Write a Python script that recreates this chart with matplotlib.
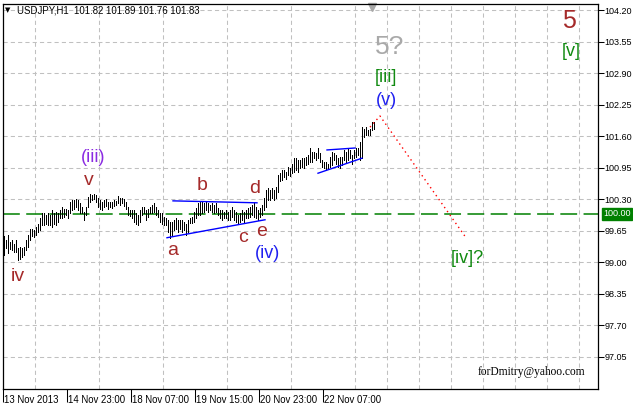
import matplotlib
matplotlib.use('Agg')
import matplotlib.pyplot as plt
import numpy as np

# ---------------- data ----------------
highs = [
    99.54, 99.47, 99.56, 99.43, 99.46, 99.39, 99.46, 99.29, 99.31, 99.29,
    99.31, 99.46, 99.56, 99.70, 99.70, 99.67, 99.74, 99.80, 99.91, 100.01,
    100.02, 99.98, 100.01, 99.98, 100.08, 100.01, 100.05, 100.01, 100.08, 100.15,
    100.11, 100.11, 100.08, 100.25, 100.29, 100.29, 100.30, 100.29, 100.22, 100.15,
    100.05, 100.15, 100.35, 100.42, 100.40, 100.42, 100.39,
    100.32, 100.29, 100.25, 100.29, 100.30, 100.25, 100.25, 100.25, 100.29, 100.27,
    100.37, 100.32, 100.32, 100.30, 100.25, 100.15, 100.09, 100.08, 100.09, 100.01,
    99.98, 100.08, 100.15, 100.15, 100.08, 100.11, 100.15, 100.18, 100.22, 100.15,
    100.08, 100.01, 100.01, 99.94, 99.91, 99.87, 99.84, 99.84, 99.87, 99.91,
    99.87, 99.87, 99.87, 99.84, 99.80, 99.87,
    99.91, 99.94, 100.05, 100.12, 100.22, 100.25, 100.25, 100.23, 100.25, 100.22,
    100.18, 100.22, 100.18, 100.22, 100.12, 100.08, 100.08, 100.05, 100.08, 100.05,
    100.08, 100.15, 100.08, 100.05, 99.98, 100.01, 100.08, 100.05, 100.08, 100.12,
    100.15, 100.18, 100.22, 100.15, 100.08, 100.12, 100.18, 100.32, 100.49, 100.53,
    100.49, 100.53, 100.49, 100.56, 100.80, 100.84, 100.91,
    100.91, 100.87, 100.97, 100.95, 101.04, 101.15, 101.15, 101.11, 101.11, 101.15,
    101.15, 101.18, 101.22, 101.35, 101.28, 101.28, 101.25, 101.35, 101.25, 101.11,
    101.08, 101.08, 101.04, 101.18, 101.28, 101.25, 101.22, 101.15, 101.18, 101.18,
    101.32, 101.28, 101.35, 101.32, 101.22, 101.32, 101.35, 101.35, 101.49, 101.80,
    101.76, 101.80, 101.73, 101.76, 101.90, 101.89,
]
lows = [
    99.15, 99.29, 99.19, 99.27, 99.26, 99.22, 99.22, 99.06, 99.08, 99.12,
    99.15, 99.26, 99.31, 99.46, 99.54, 99.53, 99.56, 99.63, 99.67, 99.77,
    99.77, 99.80, 99.77, 99.77, 99.74, 99.80, 99.77, 99.84, 99.91, 99.91,
    99.94, 99.98, 99.91, 100.01, 100.08, 100.11, 100.15, 100.08, 100.01, 100.01,
    99.87, 99.98, 100.15, 100.25, 100.29, 100.30, 100.25,
    100.15, 100.11, 100.08, 100.15, 100.16, 100.11, 100.15, 100.13, 100.16, 100.18,
    100.22, 100.18, 100.22, 100.16, 100.11, 99.98, 99.96, 99.91, 99.84, 99.80,
    99.77, 99.84, 99.98, 100.01, 99.87, 99.94, 100.01, 100.01, 100.05, 99.98,
    99.94, 99.84, 99.80, 99.77, 99.77, 99.63, 99.50, 99.56, 99.67, 99.70,
    99.63, 99.70, 99.63, 99.67, 99.56, 99.63,
    99.81, 99.81, 99.84, 99.91, 99.98, 99.98, 100.01, 100.05, 100.08, 100.05,
    100.08, 100.05, 100.01, 100.05, 99.98, 99.91, 99.88, 99.91, 99.91, 99.88,
    99.88, 99.94, 99.88, 99.84, 99.81, 99.84, 99.88, 99.84, 99.91, 99.91,
    99.94, 99.98, 99.94, 99.91, 99.88, 99.94, 99.98, 100.08, 100.15, 100.29,
    100.29, 100.32, 100.29, 100.32, 100.46, 100.67, 100.70,
    100.77, 100.73, 100.80, 100.79, 100.84, 100.87, 100.91, 100.87, 100.94, 100.97,
    100.94, 101.01, 101.04, 101.08, 101.08, 101.15, 101.11, 101.15, 101.08, 100.97,
    100.94, 100.91, 100.94, 100.97, 101.01, 101.11, 101.04, 100.97, 100.94, 101.01,
    101.11, 101.08, 101.11, 101.15, 101.04, 101.15, 101.18, 101.22, 101.11, 101.15,
    101.59, 101.63, 101.63, 101.63, 101.73, 101.76,
]

ytick_values = [104.20, 103.55, 102.90, 102.25, 101.60, 100.95, 100.30,
                99.65, 99.00, 98.35, 97.70, 97.05]
xtick_bars = [-0.5, 31.5, 63.5, 95.5, 127.5, 159.5]
xtick_labels = ['13 Nov 2013', '14 Nov 23:00', '18 Nov 07:00',
                '19 Nov 15:00', '20 Nov 23:00', '22 Nov 07:00']

level_price = 100.00

# trend lines: (x bars, prices)
tri4_top = ([84.5, 126.5], [100.27, 100.23])
tri4_bot = ([81.5, 130.5], [99.51, 99.88])
tri5_top = ([161.5, 175.5], [101.32, 101.36])
tri5_bot = ([157.0, 179.0], [100.84, 101.15])
forecast_x = [183, 188, 231]
forecast_y = [101.79, 102.02, 99.51]

# wave labels: text, bar x, price, colour, size
BROWN = '#A52A2A'
BLUE = '#2020F0'
VIOLET = '#8A2BE2'
GREEN = '#118A11'
labels = [
    ('(iii)', 44.5, 101.17, VIOLET, 13),
    ('v', 42.5, 100.70, BROWN, 14),
    ('iv', 7.0, 98.72, BROWN, 14),
    ('a', 84.5, 99.24, BROWN, 14),
    ('b', 99.0, 100.58, BROWN, 14),
    ('c', 119.5, 99.51, BROWN, 14),
    ('d', 125.5, 100.52, BROWN, 14),
    ('e', 129.0, 99.63, BROWN, 14),
    ('(iv)', 131.5, 99.18, BLUE, 13),
    ('(v)', 191.0, 102.35, BLUE, 13),
    ('[iii]', 191.0, 102.82, GREEN, 13),
    ('5?', 193.0, 103.44, '#A9A9A9', 19),
    ('5', 282.5, 103.98, BROWN, 18),
    ('[v]', 283.5, 103.36, GREEN, 13),
    ('[iv]?', 231.5, 99.09, GREEN, 13),
]

# ---------------- figure ----------------
W, H = 633, 409
fig = plt.figure(figsize=(W / 100, H / 100), dpi=100)
fig.patch.set_facecolor('white')
L, R, T, B = 3, 598, 4, 389
ax = fig.add_axes([L / W, 1 - B / H, (R - L) / W, (B - T) / H])
ax.set_facecolor('white')

FONT = 'Liberation Sans'

x = np.arange(len(highs))
ax.vlines(x, lows, highs, colors='black', linewidth=0.55, antialiased=False, zorder=3)

ax.set_xlim(-0.5, 297.0)
ax.set_ylim(96.39, 104.33)

# grid
ax.set_yticks(ytick_values)
ax.set_yticklabels([f'{v:.2f}' for v in ytick_values], fontsize=6.5, family=FONT)
ax.yaxis.tick_right()
ax.tick_params(axis='y', length=4, width=0.75, pad=0.8, colors='black')
ax.set_xticks(xtick_bars)
ax.set_xticks(np.arange(15.5, 297, 16), minor=True)
ax.tick_params(axis='x', which='major', length=9, width=0.75, labelbottom=False)
ax.tick_params(axis='x', which='minor', length=0)
ax.grid(False)
ax.yaxis.grid(True, color='#C0C0C0', linestyle=(0, (4, 3)), linewidth=0.75, zorder=0)
ax.xaxis.grid(True, which='minor', color='#C0C0C0', linestyle=(0, (4, 3)), linewidth=0.75, zorder=0)
for s in ax.spines.values():
    s.set_color('black')
    s.set_linewidth(0.9)

xt = ax.get_xaxis_transform()
for pos, lab in zip(xtick_bars, xtick_labels):
    ax.text(pos + 0.7, -0.029, lab, transform=xt, ha='left', va='center',
            fontsize=6.9, family=FONT, clip_on=False)

# horizontal level
ax.axhline(level_price, color='#008000', linewidth=1.1, linestyle=(0, (11, 4.2)), zorder=2)
ax.text(1.0085, level_price, f'{level_price:.2f}', transform=ax.get_yaxis_transform(),
        ha='left', va='center', fontsize=6.5, family=FONT, color='white',
        bbox=dict(boxstyle='square,pad=0.15', fc='#008000', ec='#008000'),
        clip_on=False, zorder=5)

# triangles
for xs, ys in (tri4_top, tri4_bot, tri5_top, tri5_bot):
    ax.plot(xs, ys, color='#0000FF', linewidth=1.0, zorder=4)

# forecast
ax.plot(forecast_x, forecast_y, color='#FF0000', linewidth=1.0,
        linestyle=(0, (1, 2.5)), zorder=4)

# wave labels
for txt, bx, py, col, sz in labels:
    ax.text(bx, py, txt, color=col, fontsize=sz, family=FONT, ha='center', va='center', zorder=6)

# title
ax.text(2.0, 104.20, '\u25bc', fontsize=5, family='DejaVu Sans', ha='center', va='center')
ax.text(6.5, 104.20, 'USDJPY,H1  101.82 101.89 101.76 101.83', fontsize=6.9,
        family=FONT, ha='left', va='center')

# shift marker
ax.plot([184], [104.27], marker='v', markersize=6, color='#A8A8A8', clip_on=False)

# signature
ax.text(263.5, 96.75, 'forDmitry@yahoo.com', fontsize=8.3, family='Liberation Serif',
        ha='center', va='center', color='black')

fig.savefig('out.png', dpi=100, facecolor='white')
